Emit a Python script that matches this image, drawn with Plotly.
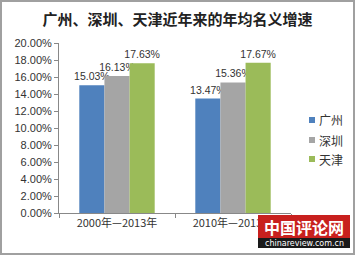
import plotly.graph_objects as go

categories = ["2000年—2013年", "2010年—2013年"]
series_names = ["广州", "深圳", "天津"]
guangzhou = [15.03, 13.47]
shenzhen = [16.13, 15.36]
tianjin = [17.63, 17.67]
colors = ["#4F81BD", "#A5A5A5", "#9BBB59"]
title = "广州、深圳、天津近年来的年均名义增速"

W, H = 355, 255
ml, mr, mt, mb = 59, 64, 43, 42
pw, ph = W - ml - mr, H - mt - mb
latin = "Liberation Sans, Noto Sans CJK SC, sans-serif"

fig = go.Figure()
for name, vals, c in zip(series_names, [guangzhou, shenzhen, tianjin], colors):
    fig.add_trace(go.Bar(
        x=categories, y=[v / 100 for v in vals], name=name, showlegend=False,
        marker=dict(color=c, line=dict(width=0)),
        text=[f"{v:.2f}%" for v in vals], textposition="outside", constraintext="none",
        textfont=dict(size=10.5, color="#333333", family=latin), cliponaxis=False,
    ))

def px(x):
    return (x - ml) / pw

def py(y):
    return (H - mb - y) / ph

shapes = [
    dict(type="rect", xref="paper", yref="paper", x0=px(1), x1=px(W - 1), y0=py(H - 1), y1=py(1),
         line=dict(color="#A0A0A0", width=2), fillcolor="rgba(0,0,0,0)", layer="above"),
]
annotations = []

# manual legend (small squares + names)
leg_y = [120, 140, 159]
for name, c, yy in zip(series_names, colors, leg_y):
    shapes.append(dict(type="rect", xref="paper", yref="paper", x0=px(309), x1=px(315),
                       y0=py(yy + 3), y1=py(yy - 3), line=dict(width=0), fillcolor=c))
    annotations.append(dict(text=name, xref="paper", yref="paper", x=px(317), y=py(yy), showarrow=False,
                            xanchor="left", yanchor="middle",
                            font=dict(size=12, color="#333333", family="Noto Sans CJK SC")))

# watermark
shapes += [
    dict(type="rect", xref="paper", yref="paper", x0=px(258), x1=px(350), y0=py(238), y1=py(215),
         line=dict(width=0), fillcolor="#C8201E", layer="above"),
    dict(type="rect", xref="paper", yref="paper", x0=px(258), x1=px(350), y0=py(248), y1=py(238),
         line=dict(width=0), fillcolor="#1A1A1A", layer="above"),
]
annotations += [
    dict(text="<b>中国评论网</b>", xref="paper", yref="paper", x=px(304), y=py(227), showarrow=False,
         font=dict(size=16, color="white", family="Noto Sans CJK SC"), xanchor="center", yanchor="middle"),
    dict(text="chinareview.com.cn", xref="paper", yref="paper", x=px(304), y=py(243), showarrow=False,
         font=dict(size=8, color="white", family="DejaVu Sans"), xanchor="center", yanchor="middle"),
]

fig.update_layout(
    width=W, height=H,
    margin=dict(l=ml, r=mr, t=mt, b=mb),
    paper_bgcolor="white", plot_bgcolor="white",
    font=dict(family="Noto Sans CJK SC, Liberation Sans, sans-serif", color="#333333"),
    title=dict(text="<b>" + title + "</b>", x=px(177.5), xref="paper", xanchor="center", y=1 - 20 / H,
               yanchor="middle", font=dict(size=15, color="#222222", family="Noto Sans CJK SC")),
    barmode="group", bargap=0.35, bargroupgap=0,
    showlegend=False,
    xaxis=dict(showline=True, linecolor="#888888", linewidth=1, ticks="outside", tickson="boundaries",
               tickcolor="#888888", ticklen=4, tickfont=dict(size=11, color="#333333"), showgrid=False),
    yaxis=dict(range=[0, 0.2], dtick=0.02, tickformat=".2%", showline=True, linecolor="#888888",
               linewidth=1, ticks="outside", tickcolor="#888888", ticklen=4, showgrid=False, zeroline=False,
               tickfont=dict(size=11, color="#333333", family=latin)),
    shapes=shapes, annotations=annotations,
)

fig.write_html("out.html")
